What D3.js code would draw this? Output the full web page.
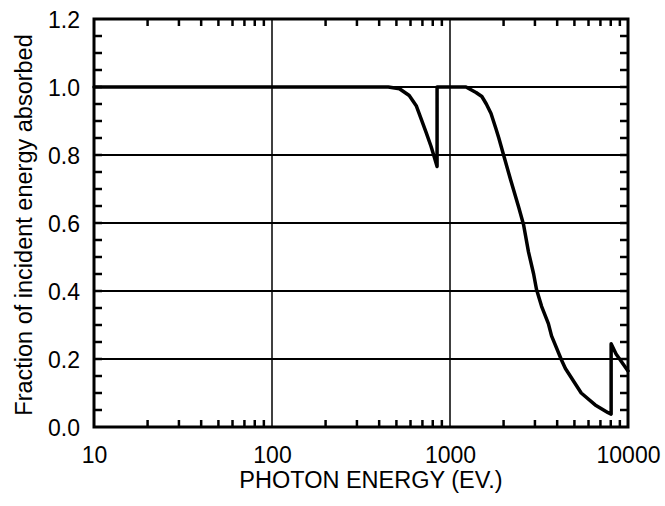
<!DOCTYPE html>
<html><head><meta charset="utf-8">
<script src="https://cdn.jsdelivr.net/npm/d3@7"></script>
<style>body{margin:0;background:#fff}svg{display:block}text{font-family:"Liberation Sans",Arial,sans-serif;fill:#000}</style>
</head><body>
<script>
// Data
const energy = [10, 450, 520, 590, 646, 690, 735, 783, 815, 846, 846, 1230, 1400, 1510, 1600, 1700, 1810, 1880, 2000, 2190, 2430, 2590, 2760, 2950, 3060, 3270, 3570, 3720, 4230, 4450, 5460, 6540, 7730, 8040, 8040, 8570, 10000];
const absorbed = [1.0, 1.0, 0.995, 0.975, 0.945, 0.905, 0.866, 0.825, 0.795, 0.766, 1.0, 1.0, 0.984, 0.972, 0.950, 0.922, 0.878, 0.850, 0.800, 0.727, 0.647, 0.595, 0.515, 0.450, 0.405, 0.355, 0.304, 0.268, 0.197, 0.172, 0.100, 0.065, 0.042, 0.038, 0.245, 0.215, 0.165];
const xTicks = [10, 100, 1000, 10000];
const xTickLabels = ["10", "100", "1000", "10000"];
const yTicks = [0, 0.2, 0.4, 0.6, 0.8, 1.0, 1.2];
const yTickLabels = ["0.0", "0.2", "0.4", "0.6", "0.8", "1.0", "1.2"];
const xGrid = [100, 1000];
const yGrid = [0.2, 0.4, 0.6, 0.8, 1.0];
const xTitle = "PHOTON ENERGY (EV.)";
const yTitle = "Fraction of incident energy absorbed";

const W = 665, H = 506;
const L = 94, R = 628, T = 19, B = 427;
const svg = d3.select("body").append("svg").attr("width", W).attr("height", H);
const x = d3.scaleLog().domain([10, 10000]).range([L, R]);
const y = d3.scaleLinear().domain([0, 1.2]).range([B, T]);

// grid
svg.append("g").selectAll("line").data(yGrid).join("line")
  .attr("x1", L).attr("x2", R).attr("y1", d => y(d)).attr("y2", d => y(d))
  .attr("stroke", "#000").attr("stroke-width", 2);
svg.append("g").selectAll("line").data(xGrid).join("line")
  .attr("y1", T).attr("y2", B).attr("x1", d => x(d)).attr("x2", d => x(d))
  .attr("stroke", "#000").attr("stroke-width", 1.5);

// minor ticks
const xMinor = [];
[10, 100, 1000].forEach(dec => { for (let k = 2; k <= 9; k++) xMinor.push(dec * k); });
const yMinor = d3.range(0, 25).map(i => i * 0.05).filter(v => v > 0 && v < 1.2);

const tickG = svg.append("g");
xMinor.forEach(v => {
  tickG.append("line").attr("x1", x(v)).attr("x2", x(v)).attr("y1", B).attr("y2", B - 7)
    .attr("stroke", "#000").attr("stroke-width", 2.5);
  tickG.append("line").attr("x1", x(v)).attr("x2", x(v)).attr("y1", T).attr("y2", T + 7)
    .attr("stroke", "#000").attr("stroke-width", 2.5);
});
yMinor.forEach(v => {
  tickG.append("line").attr("x1", L).attr("x2", L + 8).attr("y1", y(v)).attr("y2", y(v))
    .attr("stroke", "#000").attr("stroke-width", 2.5);
  tickG.append("line").attr("x1", R).attr("x2", R - 8).attr("y1", y(v)).attr("y2", y(v))
    .attr("stroke", "#000").attr("stroke-width", 2.5);
});

// axes with labels
const xAxis = d3.axisBottom(x).tickValues(xTicks).tickFormat((d, i) => xTickLabels[i]).tickSize(0).tickPadding(20);
const gx = svg.append("g").attr("transform", `translate(0,${B})`).call(xAxis);
gx.select(".domain").remove();
gx.selectAll("text").attr("font-size", 23).attr("font-family", "Liberation Sans, Arial, sans-serif").attr("fill", "#000").attr("dy", 0).attr("y", 36);

const yAxis = d3.axisLeft(y).tickValues(yTicks).tickFormat((d, i) => yTickLabels[i]).tickSize(0).tickPadding(14);
const gy = svg.append("g").attr("transform", `translate(${L},0)`).call(yAxis);
gy.select(".domain").remove();
gy.selectAll("text").attr("font-size", 23).attr("font-family", "Liberation Sans, Arial, sans-serif").attr("fill", "#000").attr("dy", "0.36em");

// curve
const pts = energy.map((e, i) => [e, absorbed[i]]);
svg.append("path").datum(pts)
  .attr("d", d3.line().x(d => x(d[0])).y(d => y(d[1])).curve(d3.curveLinear))
  .attr("fill", "none").attr("stroke", "#000").attr("stroke-width", 3.5)
  .attr("stroke-linejoin", "round").attr("stroke-linecap", "round");

// frame
svg.append("rect").attr("x", L).attr("y", T).attr("width", R - L).attr("height", B - T)
  .attr("fill", "none").attr("stroke", "#000").attr("stroke-width", 3);

// titles
svg.append("text").attr("x", 371).attr("y", 488).attr("text-anchor", "middle")
  .attr("font-size", 23.5).text(xTitle);
svg.append("text").attr("transform", "translate(32,225) rotate(-90)").attr("text-anchor", "middle")
  .attr("font-size", 23.5).text(yTitle);
</script>
</body></html>
